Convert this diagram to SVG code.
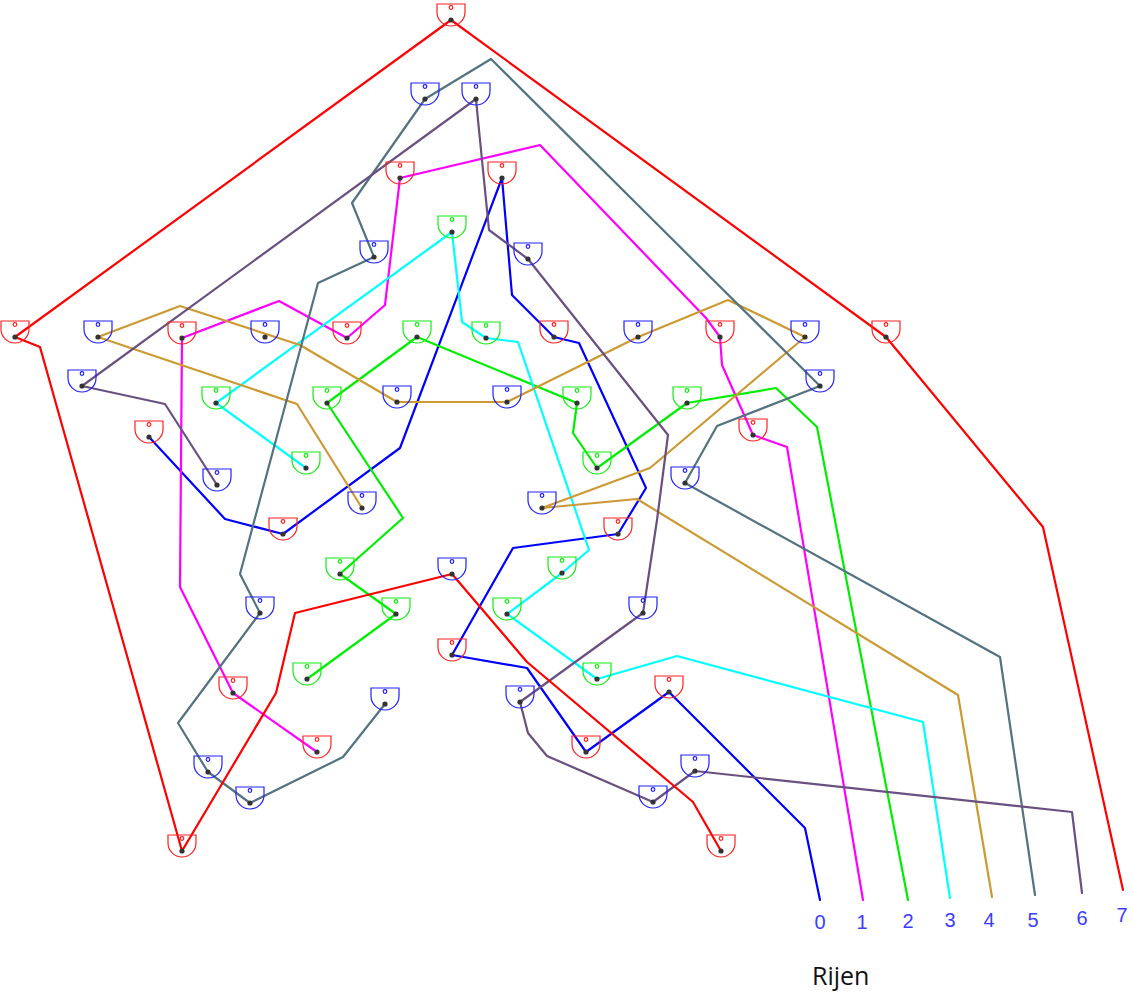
<svg xmlns="http://www.w3.org/2000/svg" xmlns:xlink="http://www.w3.org/1999/xlink" width="1133" height="994" viewBox="0 0 1133 994">
<style>
.r{stroke:#ff2020}
.b{stroke:#2020ff}
.g{stroke:#10ee10}
.dot{fill:#333;stroke:none}
#connectors polyline{fill:none;stroke-width:2.2;stroke-linejoin:round;stroke-linecap:round}
.lbl{font-family:"Liberation Sans",Arial,sans-serif;font-size:20px;fill:#3c3cff;text-anchor:middle}
</style>
<defs>
<g id="bowl" fill="none" stroke-width="1.2"><path d="M-14,-16 H14 V-8 A14,14 0 0 1 -14,-8 Z" fill="none"/><circle cy="-12.5" r="1.8" fill="none"/></g>
</defs>
<rect width="1133" height="994" fill="#fff"/>
<g id="connectors">
<polyline id="row0" stroke="#0000ff" points="820,900 805,828 669,692 586,752 527,668 452,655 513,548 618,534 646,488 579,343 554,337 512,295 502,178 400,448 283,534 225,519 149,437"/>
<polyline id="row1" stroke="#ff00ff" points="863,900 787,447 753,435 722,365 720,337 706,318 540,145 400,178 385,305 347,338 279,301 182,338 180,587 233,693 317,752"/>
<polyline id="row2" stroke="#00ee00" points="908,900 817,427 776,388 687,403 597,468 573,433 577,403 417,337 327,403 403,518 340,574 396,614 307,679"/>
<polyline id="row3" stroke="#00ffff" points="950,898 923,722 677,656 597,679 507,614 562,573 589,550 518,342 486,338 462,322 452,232 216,403 306,468"/>
<polyline id="row4" stroke="#cc9933" points="992,897 958,695 637,499 542,508 650,468 805,337 728,300 638,337 507,402 397,402 300,345 180,306 98,337 297,404 362,508"/>
<polyline id="row5" stroke="#537380" points="1035,895 1000,657 685,483 717,426 820,386 491,59 425,99 352,203 374,257 318,283 240,574 260,613 178,723 208,772 250,803 343,757 385,704"/>
<polyline id="row6" stroke="#6a5080" points="1082,893 1072,812 695,771 653,802 547,756 528,733 520,702 643,613 657,520 668,435 528,259 489,230 478,120 476,99 82,386 165,404 217,485"/>
<polyline id="row7" stroke="#ff0000" points="1123,890 1043,527 886,337 451,20 15,337 40,347 182,851 276,693 295,613 452,574 527,662 693,802 721,851"/>
</g>
<g id="nodes">
<g id="R1" class="n r" transform="translate(451,20)"><use xlink:href="#bowl"/><circle class="dot" r="2.6"/></g>
<g id="R2" class="n r" transform="translate(15,337)"><use xlink:href="#bowl"/><circle class="dot" r="2.6"/></g>
<g id="R3" class="n r" transform="translate(400,178)"><use xlink:href="#bowl"/><circle class="dot" r="2.6"/></g>
<g id="R4" class="n r" transform="translate(502,178)"><use xlink:href="#bowl"/><circle class="dot" r="2.6"/></g>
<g id="R5" class="n r" transform="translate(886,337)"><use xlink:href="#bowl"/><circle class="dot" r="2.6"/></g>
<g id="R6" class="n r" transform="translate(182,338)"><use xlink:href="#bowl"/><circle class="dot" r="2.6"/></g>
<g id="R7" class="n r" transform="translate(347,338)"><use xlink:href="#bowl"/><circle class="dot" r="2.6"/></g>
<g id="R8" class="n r" transform="translate(554,337)"><use xlink:href="#bowl"/><circle class="dot" r="2.6"/></g>
<g id="R9" class="n r" transform="translate(720,337)"><use xlink:href="#bowl"/><circle class="dot" r="2.6"/></g>
<g id="R10" class="n r" transform="translate(149,437)"><use xlink:href="#bowl"/><circle class="dot" r="2.6"/></g>
<g id="R11" class="n r" transform="translate(753,435)"><use xlink:href="#bowl"/><circle class="dot" r="2.6"/></g>
<g id="R12" class="n r" transform="translate(283,534)"><use xlink:href="#bowl"/><circle class="dot" r="2.6"/></g>
<g id="R13" class="n r" transform="translate(618,534)"><use xlink:href="#bowl"/><circle class="dot" r="2.6"/></g>
<g id="R14" class="n r" transform="translate(452,655)"><use xlink:href="#bowl"/><circle class="dot" r="2.6"/></g>
<g id="R15" class="n r" transform="translate(233,693)"><use xlink:href="#bowl"/><circle class="dot" r="2.6"/></g>
<g id="R16" class="n r" transform="translate(669,692)"><use xlink:href="#bowl"/><circle class="dot" r="2.6"/></g>
<g id="R17" class="n r" transform="translate(317,752)"><use xlink:href="#bowl"/><circle class="dot" r="2.6"/></g>
<g id="R18" class="n r" transform="translate(182,851)"><use xlink:href="#bowl"/><circle class="dot" r="2.6"/></g>
<g id="R19" class="n r" transform="translate(721,851)"><use xlink:href="#bowl"/><circle class="dot" r="2.6"/></g>
<g id="R20" class="n r" transform="translate(586,752)"><use xlink:href="#bowl"/><circle class="dot" r="2.6"/></g>
<g id="B1" class="n b" transform="translate(425,99)"><use xlink:href="#bowl"/><circle class="dot" r="2.6"/></g>
<g id="B2" class="n b" transform="translate(476,99)"><use xlink:href="#bowl"/><circle class="dot" r="2.6"/></g>
<g id="B3" class="n b" transform="translate(374,257)"><use xlink:href="#bowl"/><circle class="dot" r="2.6"/></g>
<g id="B4" class="n b" transform="translate(528,259)"><use xlink:href="#bowl"/><circle class="dot" r="2.6"/></g>
<g id="B5" class="n b" transform="translate(98,337)"><use xlink:href="#bowl"/><circle class="dot" r="2.6"/></g>
<g id="B6" class="n b" transform="translate(265,337)"><use xlink:href="#bowl"/><circle class="dot" r="2.6"/></g>
<g id="B7" class="n b" transform="translate(638,337)"><use xlink:href="#bowl"/><circle class="dot" r="2.6"/></g>
<g id="B8" class="n b" transform="translate(805,337)"><use xlink:href="#bowl"/><circle class="dot" r="2.6"/></g>
<g id="B9" class="n b" transform="translate(82,386)"><use xlink:href="#bowl"/><circle class="dot" r="2.6"/></g>
<g id="B10" class="n b" transform="translate(397,402)"><use xlink:href="#bowl"/><circle class="dot" r="2.6"/></g>
<g id="B11" class="n b" transform="translate(507,402)"><use xlink:href="#bowl"/><circle class="dot" r="2.6"/></g>
<g id="B12" class="n b" transform="translate(820,386)"><use xlink:href="#bowl"/><circle class="dot" r="2.6"/></g>
<g id="B13" class="n b" transform="translate(217,485)"><use xlink:href="#bowl"/><circle class="dot" r="2.6"/></g>
<g id="B14" class="n b" transform="translate(362,508)"><use xlink:href="#bowl"/><circle class="dot" r="2.6"/></g>
<g id="B15" class="n b" transform="translate(542,508)"><use xlink:href="#bowl"/><circle class="dot" r="2.6"/></g>
<g id="B16" class="n b" transform="translate(685,483)"><use xlink:href="#bowl"/><circle class="dot" r="2.6"/></g>
<g id="B17" class="n b" transform="translate(452,574)"><use xlink:href="#bowl"/><circle class="dot" r="2.6"/></g>
<g id="B18" class="n b" transform="translate(260,613)"><use xlink:href="#bowl"/><circle class="dot" r="2.6"/></g>
<g id="B19" class="n b" transform="translate(643,613)"><use xlink:href="#bowl"/><circle class="dot" r="2.6"/></g>
<g id="B20" class="n b" transform="translate(385,704)"><use xlink:href="#bowl"/><circle class="dot" r="2.6"/></g>
<g id="B21" class="n b" transform="translate(520,702)"><use xlink:href="#bowl"/><circle class="dot" r="2.6"/></g>
<g id="B22" class="n b" transform="translate(208,772)"><use xlink:href="#bowl"/><circle class="dot" r="2.6"/></g>
<g id="B23" class="n b" transform="translate(695,771)"><use xlink:href="#bowl"/><circle class="dot" r="2.6"/></g>
<g id="B24" class="n b" transform="translate(250,803)"><use xlink:href="#bowl"/><circle class="dot" r="2.6"/></g>
<g id="B25" class="n b" transform="translate(653,802)"><use xlink:href="#bowl"/><circle class="dot" r="2.6"/></g>
<g id="G1" class="n g" transform="translate(452,232)"><use xlink:href="#bowl"/><circle class="dot" r="2.6"/></g>
<g id="G2" class="n g" transform="translate(417,337)"><use xlink:href="#bowl"/><circle class="dot" r="2.6"/></g>
<g id="G3" class="n g" transform="translate(486,338)"><use xlink:href="#bowl"/><circle class="dot" r="2.6"/></g>
<g id="G4" class="n g" transform="translate(216,403)"><use xlink:href="#bowl"/><circle class="dot" r="2.6"/></g>
<g id="G5" class="n g" transform="translate(327,403)"><use xlink:href="#bowl"/><circle class="dot" r="2.6"/></g>
<g id="G6" class="n g" transform="translate(577,403)"><use xlink:href="#bowl"/><circle class="dot" r="2.6"/></g>
<g id="G7" class="n g" transform="translate(687,403)"><use xlink:href="#bowl"/><circle class="dot" r="2.6"/></g>
<g id="G8" class="n g" transform="translate(306,468)"><use xlink:href="#bowl"/><circle class="dot" r="2.6"/></g>
<g id="G9" class="n g" transform="translate(597,468)"><use xlink:href="#bowl"/><circle class="dot" r="2.6"/></g>
<g id="G10" class="n g" transform="translate(340,574)"><use xlink:href="#bowl"/><circle class="dot" r="2.6"/></g>
<g id="G11" class="n g" transform="translate(562,573)"><use xlink:href="#bowl"/><circle class="dot" r="2.6"/></g>
<g id="G12" class="n g" transform="translate(396,614)"><use xlink:href="#bowl"/><circle class="dot" r="2.6"/></g>
<g id="G13" class="n g" transform="translate(507,614)"><use xlink:href="#bowl"/><circle class="dot" r="2.6"/></g>
<g id="G14" class="n g" transform="translate(307,679)"><use xlink:href="#bowl"/><circle class="dot" r="2.6"/></g>
<g id="G15" class="n g" transform="translate(597,679)"><use xlink:href="#bowl"/><circle class="dot" r="2.6"/></g>
</g>
<g id="labels">
<text class="lbl" x="820" y="929">0</text>
<text class="lbl" x="862" y="929">1</text>
<text class="lbl" x="908" y="928">2</text>
<text class="lbl" x="950" y="927">3</text>
<text class="lbl" x="989" y="927">4</text>
<text class="lbl" x="1033" y="927">5</text>
<text class="lbl" x="1082" y="925">6</text>
<text class="lbl" x="1122" y="922">7</text>
<text x="812" y="985" font-family="'Open Sans','Liberation Sans',sans-serif" font-size="25" fill="#111">Rijen</text>
</g>
</svg>
